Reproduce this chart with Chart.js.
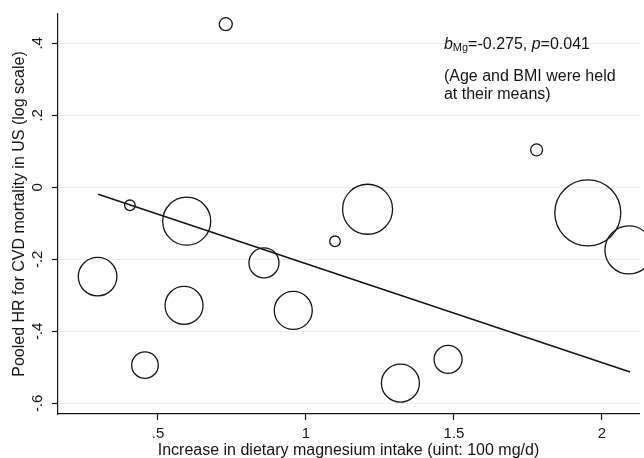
<!DOCTYPE html>
<html>
<head>
<meta charset="utf-8">
<script src="https://cdn.jsdelivr.net/npm/chart.js@4.4.1/dist/chart.umd.min.js"></script>
<style>
  html, body { margin: 0; padding: 0; background: #fff; }
  #wrap { width: 644px; height: 458px; position: relative; }
</style>
</head>
<body>
<div id="wrap"><canvas id="c" width="644" height="458"></canvas></div>
<script>
// Study-level data
const magIncrease = [0.296, 0.405, 0.456, 0.588, 0.597, 0.729, 0.858, 0.957, 1.098, 1.208, 1.319, 1.480, 1.779, 1.952, 2.091];
const logHR       = [-0.248, -0.050, -0.494, -0.328, -0.094, 0.453, -0.210, -0.342, -0.150, -0.061, -0.544, -0.478, 0.104, -0.071, -0.174];
const bubbleSize  = [19.3, 5.3, 13.3, 19, 24, 6.5, 15, 19, 5.3, 25, 19, 14, 6, 33, 24];

// Fitted meta-regression line end points
const fitX = [0.298, 2.095];
const fitY = [-0.019, -0.513];

// Axis ticks
const xTicks = [0.5, 1, 1.5, 2];
const yTicks = [-0.6, -0.4, -0.2, 0, 0.2, 0.4];

const FONT = '"Liberation Sans", Arial, Helvetica, sans-serif';
const INK = '#141414';

function stataLabel(v) {
  if (Math.abs(v) < 1e-9) return '0';
  let s = String(Math.round(v * 100) / 100);
  s = s.replace(/^0\./, '.').replace(/^-0\./, '-.');
  return s;
}

const annotationPlugin = {
  id: 'annot',
  afterDraw(chart) {
    const ctx = chart.ctx;
    const xs = chart.scales.x, ys = chart.scales.y;
    const x0 = xs.getPixelForValue(1.466);
    const yRef = ys.getPixelForValue(0.4);
    ctx.save();
    ctx.fillStyle = INK;
    ctx.textBaseline = 'alphabetic';
    ctx.textAlign = 'left';
    let x = x0;
    const b1 = yRef + 6;
    ctx.font = 'italic 16px ' + FONT;
    ctx.fillText('b', x, b1); x += ctx.measureText('b').width;
    ctx.font = '11px ' + FONT;
    ctx.fillText('Mg', x, b1 + 2); x += ctx.measureText('Mg').width;
    ctx.font = '16px ' + FONT;
    ctx.fillText('=-0.275, ', x, b1); x += ctx.measureText('=-0.275, ').width;
    ctx.font = 'italic 16px ' + FONT;
    ctx.fillText('p', x, b1); x += ctx.measureText('p').width;
    ctx.font = '16px ' + FONT;
    ctx.fillText('=0.041', x, b1);
    ctx.fillText('(Age and BMI were held', x0, yRef + 38);
    ctx.fillText('at their means)', x0, yRef + 56);
    ctx.restore();
  }
};

new Chart(document.getElementById('c'), {
  type: 'bubble',
  data: {
    datasets: [
      {
        type: 'bubble',
        data: magIncrease.map((v, i) => ({ x: v, y: logHR[i], r: bubbleSize[i] })),
        backgroundColor: 'rgba(0,0,0,0)',
        borderColor: INK,
        borderWidth: 1.3,
        hoverRadius: 0,
        clip: false,
        order: 2
      },
      {
        type: 'line',
        data: fitX.map((v, i) => ({ x: v, y: fitY[i] })),
        borderColor: INK,
        borderWidth: 1.6,
        pointRadius: 0,
        fill: false,
        tension: 0,
        clip: false,
        order: 1
      }
    ]
  },
  options: {
    responsive: false,
    animation: false,
    events: [],
    layout: { autoPadding: false, padding: { top: 14, right: 5, left: 0, bottom: 0 } },
    plugins: { legend: { display: false }, tooltip: { enabled: false } },
    scales: {
      x: {
        type: 'linear',
        min: 0.1622, max: 2.125,
        afterBuildTicks: s => { s.ticks = xTicks.map(v => ({ value: v })); },
        afterFit: s => { s.height = 44; },
        border: { display: true, color: INK, width: 1.2 },
        grid: { drawOnChartArea: false, tickColor: INK, tickLength: 6, tickWidth: 1.2 },
        ticks: {
          color: INK, padding: 5, maxRotation: 0, minRotation: 0,
          font: { family: FONT, size: 15 },
          callback: v => stataLabel(v)
        },
        title: {
          display: true,
          text: 'Increase in dietary magnesium intake (uint: 100 mg/d)',
          color: INK,
          font: { family: FONT, size: 16 },
          padding: { top: 0, bottom: -2 }
        }
      },
      y: {
        type: 'linear',
        min: -0.6297, max: 0.4814,
        afterBuildTicks: s => { s.ticks = yTicks.map(v => ({ value: v })); },
        afterFit: s => { s.width = 58; },
        border: { display: true, color: INK, width: 1.2 },
        grid: { color: '#e4edef', lineWidth: 1, tickColor: INK, tickLength: 6, tickWidth: 1.2 },
        ticks: {
          color: INK, padding: 5, minRotation: 90, maxRotation: 90, crossAlign: 'center',
          font: { family: FONT, size: 15 },
          callback: v => stataLabel(v)
        },
        title: {
          display: true,
          text: 'Pooled HR for CVD mortality in US (log scale)',
          color: INK,
          font: { family: FONT, size: 16 },
          padding: { top: 10, bottom: 0 }
        }
      }
    }
  },
  plugins: [annotationPlugin]
});
</script>
</body>
</html>
